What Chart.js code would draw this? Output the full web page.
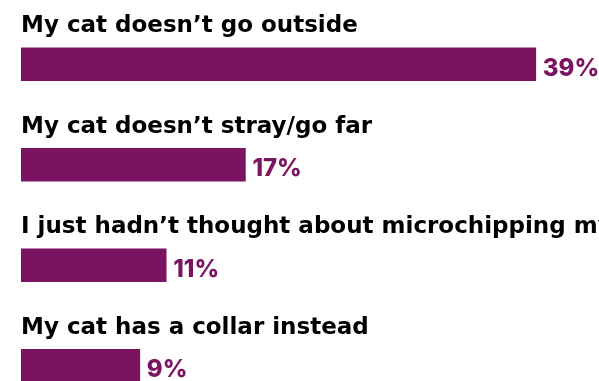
<!DOCTYPE html>
<html>
<head>
<meta charset="utf-8">
<style>
  html, body { margin: 0; padding: 0; background: #fff; overflow: hidden; }
  canvas { display: block; }
</style>
<script src="https://cdn.jsdelivr.net/npm/chart.js@4/dist/chart.umd.min.js"></script>
</head>
<body>
<canvas id="chart" width="599" height="430"></canvas>
<script>
// Raisons de ne pas pucer son chat (en %)
const categories = [
    "My cat doesn’t go outside",
    "My cat doesn’t stray/go far",
    "I just hadn’t thought about microchipping my cat",
    "My cat has a collar instead"
];
const values = [39, 17, 11, 9];

const barColor = "#7a1361";

// Titre au-dessus de chaque barre et pourcentage à droite
const labelPlugin = {
    id: "barLabels",
    afterDatasetsDraw(chart) {
        const ctx = chart.ctx;
        const meta = chart.getDatasetMeta(0);
        ctx.save();
        ctx.textBaseline = "alphabetic";
        meta.data.forEach((bar, i) => {
            ctx.fillStyle = "#000";
            ctx.textAlign = "left";
            ctx.font = "700 23px 'DejaVu Sans'";
            ctx.fillText(categories[i], bar.base, bar.y - 32);

            ctx.fillStyle = barColor;
            ctx.font = "800 24px Inter";
            ctx.fillText(values[i] + "%", bar.x + 7, bar.y + 11.5);
        });
        ctx.restore();
    }
};

const ctx = document.getElementById("chart").getContext("2d");
new Chart(ctx, {
    type: "bar",
    data: {
        labels: categories,
        datasets: [{
            data: values,
            backgroundColor: barColor,
            borderWidth: 0,
            barThickness: 33
        }]
    },
    options: {
        indexAxis: "y",
        responsive: false,
        animation: false,
        layout: { padding: { left: 21, right: 50, top: 14, bottom: 14 } },
        scales: {
            x: { display: false, min: 0, max: 40 },
            y: { display: false }
        },
        plugins: {
            legend: { display: false },
            tooltip: { enabled: false }
        }
    },
    plugins: [labelPlugin]
});
</script>
</body>
</html>
